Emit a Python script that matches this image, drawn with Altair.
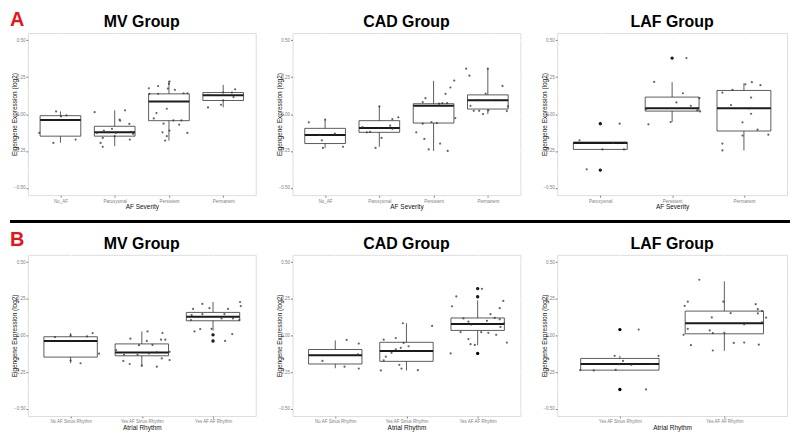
import altair as alt
import pandas as pd

FONT = "Liberation Sans"

Y_TICKS = [-0.5, -0.25, 0.0, 0.25, 0.5]
Y_MINOR = [-0.375, -0.125, 0.125, 0.375]

SEV4 = ["No_AF", "Paroxysmal", "Persistent", "Permanent"]
SEV3 = ["Paroxysmal", "Persistent", "Permanent"]
RHY3 = ["No AF Sinus Rhythm", "Yes AF Sinus Rhythm", "Yes AF AF Rhythm"]
RHY2 = ["Yes AF Sinus Rhythm", "Yes AF AF Rhythm"]

# ---------- A: MV group (AF severity) ----------
A1_LO = [-0.195, -0.218, -0.18, 0.045]
A1_Q1 = [-0.15, -0.15, -0.045, 0.092]
A1_MED = [-0.04, -0.124, 0.085, 0.128]
A1_Q3 = [-0.011, -0.083, 0.137, 0.146]
A1_HI = [0.018, 0.025, 0.225, 0.198]
A1_PTS = [
    [(-0.08, 0.018), (0.01, -0.016), (0.11, -0.009), (-0.39, -0.128), (-0.13, -0.196), (0.28, -0.173)],
    [(-0.37, 0.013), (0.19, 0.025), (0.09, -0.038), (0.1, -0.045), (0.27, -0.067), (-0.05, -0.1),
     (-0.2, -0.112), (-0.33, -0.128), (-0.12, -0.124), (0.02, -0.128), (0.3, -0.121), (0.34, -0.135),
     (-0.22, -0.162), (0.28, -0.173), (-0.26, -0.196), (-0.22, -0.222), (0.0, -0.15)],
    [(-0.37, 0.175), (-0.2, 0.19), (0.01, 0.22), (0.0, 0.205), (-0.02, 0.173), (0.11, 0.164),
     (-0.36, 0.137), (-0.2, 0.137), (0.27, 0.141), (0.34, 0.141), (-0.23, 0.007), (-0.04, 0.036),
     (-0.28, -0.03), (-0.1, -0.065), (0.08, -0.043), (0.23, -0.043), (0.19, -0.072), (-0.12, -0.124),
     (0.01, -0.112), (0.34, -0.128), (-0.04, -0.15), (-0.07, -0.18)],
    [(0.22, 0.168), (0.16, 0.146), (0.0, 0.146), (-0.28, 0.13), (0.0, 0.092), (0.19, 0.115),
     (-0.28, 0.045), (-0.04, 0.063)],
]
A1_OUT = []

# ---------- A: CAD group (AF severity) ----------
A2_LO = [-0.23, -0.222, -0.25, 0.0]
A2_Q1 = [-0.2, -0.124, -0.061, 0.034]
A2_MED = [-0.142, -0.094, 0.056, 0.094]
A2_Q3 = [-0.097, -0.045, 0.07, 0.13]
A2_HI = [-0.038, 0.052, 0.225, 0.308]
A2_PTS = [
    [(-0.3, -0.056), (0.0, -0.038), (-0.06, -0.178), (-0.1, -0.142), (0.18, -0.133), (-0.04, -0.23), (0.33, -0.222)],
    [(0.0, 0.052), (0.24, -0.034), (0.35, -0.022), (-0.31, -0.088), (0.2, -0.079), (0.24, -0.1),
     (-0.23, -0.124), (-0.17, -0.121), (0.04, -0.162), (-0.07, -0.23)],
    [(0.38, 0.227), (0.31, 0.18), (0.22, 0.137), (-0.15, 0.108), (-0.2, 0.081), (-0.29, 0.056),
     (0.1, 0.07), (0.16, 0.074), (0.25, 0.074), (0.2, 0.056), (0.4, -0.027), (-0.04, -0.054),
     (0.06, -0.061), (-0.2, -0.065), (-0.32, -0.124), (-0.17, -0.169), (0.12, -0.2), (-0.09, -0.24),
     (0.26, -0.25)],
    [(-0.4, 0.308), (-0.34, 0.26), (0.0, 0.308), (0.27, 0.191), (-0.04, 0.139), (-0.19, 0.094),
     (0.15, 0.094), (-0.32, 0.056), (-0.26, 0.022), (-0.16, 0.022), (-0.09, 0.0), (0.01, 0.025),
     (0.37, 0.052), (0.35, 0.02)],
]
A2_OUT = []

# ---------- A: LAF group (AF severity) ----------
A3_LO = [-0.24, -0.054, -0.247]
A3_Q1 = [-0.24, 0.02, -0.115]
A3_MED = [-0.196, 0.04, 0.04]
A3_Q3 = [-0.19, 0.115, 0.16]
A3_HI = [-0.19, 0.216, 0.209]
A3_PTS = [
    [(0.27, -0.065), (-0.29, -0.178), (0.18, -0.196), (0.34, -0.196), (0.03, -0.24), (0.33, -0.24),
     (-0.19, -0.375), (0.0, -0.07), (0.0, -0.38)],
    [(0.2, 0.38), (-0.25, 0.218), (0.15, 0.141), (0.06, 0.079), (0.26, 0.056), (0.38, 0.108),
     (-0.36, 0.034), (0.35, 0.025), (0.39, 0.018), (-0.33, -0.07), (-0.02, -0.054), (0.0, 0.38)],
    [(-0.3, 0.146), (-0.16, 0.164), (0.02, 0.202), (0.11, 0.216), (0.23, 0.196), (0.1, 0.112),
     (-0.18, 0.061), (0.07, 0.038), (0.1, 0.002), (-0.02, -0.056), (0.19, -0.106), (-0.02, -0.146),
     (0.34, -0.14), (-0.3, -0.2), (-0.3, -0.247)],
]
A3_OUT = [(1, -0.065), (1, -0.38), (2, 0.38)]

# ---------- B: MV group (atrial rhythm) ----------
B1_LO = [-0.19, -0.213, 0.034]
B1_Q1 = [-0.148, -0.139, 0.1]
B1_MED = [-0.038, -0.116, 0.128]
B1_Q3 = [-0.009, -0.058, 0.157]
B1_HI = [0.016, 0.027, 0.228]
B1_PTS = [
    [(-0.22, -0.011), (0.0, 0.0), (0.23, -0.007), (0.31, 0.016), (0.4, -0.125), (0.0, -0.172), (0.14, -0.19)],
    [(0.08, 0.027), (0.29, 0.016), (-0.16, -0.022), (0.07, -0.038), (0.27, -0.029), (0.33, -0.029),
     (-0.04, -0.067), (0.15, -0.065), (-0.36, -0.1), (-0.25, -0.132), (-0.06, -0.132), (0.1, -0.123),
     (0.21, -0.116), (0.39, -0.112), (-0.26, -0.174), (-0.17, -0.195), (0.28, -0.157), (0.39, -0.168),
     (0.21, -0.213), (0.0, -0.206)],
    [(-0.15, 0.215), (-0.28, 0.181), (-0.05, 0.186), (0.21, 0.181), (0.38, 0.228), (0.39, 0.2),
     (-0.3, 0.139), (-0.15, 0.145), (0.16, 0.145), (0.12, 0.116), (0.28, 0.116), (0.37, 0.105),
     (-0.31, 0.105), (-0.26, 0.027), (-0.18, 0.043), (-0.02, 0.045), (0.27, 0.009), (0.17, -0.038),
     (0.0, 0.004), (0.0, -0.038)],
]
B1_OUT = [(3, 0.004), (3, -0.038)]

# ---------- B: CAD group (atrial rhythm) ----------
B2_LO = [-0.224, -0.239, -0.067]
B2_Q1 = [-0.195, -0.177, 0.034]
B2_MED = [-0.136, -0.107, 0.078]
B2_Q3 = [-0.096, -0.047, 0.119]
B2_HI = [-0.034, 0.083, 0.239]
B2_PTS = [
    [(0.16, -0.031), (0.33, -0.056), (-0.18, -0.174), (0.13, -0.213), (0.33, -0.226), (0.32, -0.13)],
    [(-0.05, 0.083), (0.36, 0.065), (-0.15, -0.018), (-0.32, -0.029), (-0.04, -0.051), (0.03, -0.074),
     (-0.15, -0.096), (-0.08, -0.085), (-0.21, -0.119), (-0.29, -0.145), (-0.32, -0.17), (-0.1, -0.201),
     (-0.07, -0.226), (0.16, -0.237), (-0.36, -0.239)],
    [(0.06, 0.318), (-0.3, 0.266), (-0.36, 0.199), (0.36, 0.235), (0.31, 0.186), (0.18, 0.145),
     (-0.2, 0.116), (0.24, 0.119), (0.31, 0.11), (-0.13, 0.094), (-0.09, 0.074), (0.13, 0.1),
     (0.37, 0.083), (-0.24, 0.022), (0.05, 0.022), (0.15, 0.018), (0.26, 0.004), (-0.13, -0.025),
     (-0.1, -0.06), (-0.04, -0.065), (0.41, -0.049), (-0.38, -0.123), (0.32, 0.058), (0.0, 0.264),
     (0.0, 0.32)],
]
B2_OUT = [(3, 0.32), (3, 0.264), (3, -0.123)]

# ---------- B: LAF group (atrial rhythm) ----------
B3_LO = [-0.237, -0.105]
B3_Q1 = [-0.237, 0.011]
B3_MED = [-0.195, 0.083]
B3_Q3 = [-0.157, 0.166]
B3_HI = [-0.139, 0.369]
B3_PTS = [
    [(0.18, 0.04), (-0.05, -0.139), (0.03, -0.174), (0.37, -0.139), (-0.01, -0.197), (0.11, -0.201),
     (0.31, -0.195), (-0.38, -0.237), (-0.25, -0.239), (-0.04, -0.235), (0.25, -0.369)],
    [(-0.24, 0.38), (-0.01, 0.23), (-0.35, 0.23), (-0.38, 0.201), (0.3, 0.213), (0.32, 0.179),
     (0.06, 0.152), (-0.12, 0.123), (0.32, 0.15), (0.36, 0.166), (0.4, 0.121), (0.36, 0.089),
     (0.19, 0.076), (-0.35, 0.045), (-0.14, 0.034), (-0.11, 0.016), (0.0, 0.018), (-0.39, 0.004),
     (-0.32, -0.067), (0.09, -0.051), (0.19, -0.049), (0.33, -0.063), (-0.11, -0.103)],
]
B3_OUT = [(1, 0.04), (1, -0.369)]

W1, W2, W3 = 229, 229, 231
HA, HB = 163, 162


def label_expr(cats):
    expr = "''"
    for i in reversed(range(len(cats))):
        expr = f"datum.value == {i + 1} ? '{cats[i]}' : ({expr})"
    return expr


def panel(title, cats, lo, q1, med, q3, hi, pts, outs, xtitle, width, height, extra=None):
    n = len(cats)
    xs = alt.Scale(domain=[0.4, n + 0.6], nice=False, zero=False)
    ys = alt.Scale(domain=[-0.55, 0.55], nice=False, zero=False)
    xaxis = alt.Axis(values=list(range(1, n + 1)), labelExpr=label_expr(cats), title=xtitle,
                     labelFontSize=4.5, labelColor="#808080", labelFont=FONT, labelPadding=1,
                     tickSize=2, tickColor="#808080", domain=False, grid=True, gridColor="white",
                     gridWidth=1, titleFontSize=6.5, titleFont=FONT, titleFontWeight="normal",
                     titleColor="#111", titlePadding=1)
    yaxis = alt.Axis(values=Y_TICKS, format=".2f", title="Eigengene Expression (log2)",
                     labelFontSize=4.5, labelColor="#808080", labelFont=FONT, labelPadding=1,
                     tickSize=2, tickColor="#808080", domain=False, grid=True, gridColor="white",
                     gridWidth=1, titleFontSize=6.5, titleFont=FONT, titleFontWeight="normal",
                     titleColor="#111", titleX=-10)
    box = pd.DataFrame({"i": list(range(1, n + 1)), "lo": lo, "q1": q1, "med": med, "q3": q3, "hi": hi})
    px, py = [], []
    for ci, plist in enumerate(pts, start=1):
        for j, y in plist:
            px.append(ci + j)
            py.append(y)
    ptdf = pd.DataFrame({"x": px, "y": py})

    minor = alt.Chart(pd.DataFrame({"v": Y_MINOR})).mark_rule(color="white", strokeWidth=0.5).encode(
        y=alt.Y("v:Q", scale=ys, axis=yaxis))
    base = alt.Chart(box)
    whisk = base.mark_rule(color="#333333", strokeWidth=0.8).encode(
        x=alt.X("i:Q", scale=xs, axis=xaxis), y=alt.Y("lo:Q", scale=ys, axis=yaxis), y2="hi:Q")
    calc = base.transform_calculate(xa="datum.i - 0.375", xb="datum.i + 0.375")
    boxes = calc.mark_rect(fill="white", stroke="#333333", strokeWidth=0.8).encode(
        x=alt.X("xa:Q", scale=xs, axis=xaxis), x2="xb:Q",
        y=alt.Y("q1:Q", scale=ys, axis=yaxis), y2="q3:Q")
    meds = calc.mark_rule(color="#1a1a1a", strokeWidth=2).encode(
        x=alt.X("xa:Q", scale=xs, axis=xaxis), x2="xb:Q", y=alt.Y("med:Q", scale=ys, axis=yaxis))
    ttl = alt.Chart(pd.DataFrame({"t": [title]})).mark_text(
        font=FONT, fontSize=16, fontWeight="bold", color="black", align="center",
        baseline="alphabetic").encode(text="t:N", x=alt.value(width / 2), y=alt.value(-6))
    layers = [minor, whisk, boxes, meds]
    if outs:
        odf = pd.DataFrame({"x": [o[0] for o in outs], "y": [o[1] for o in outs]})
        layers.append(alt.Chart(odf).mark_circle(color="black", size=11, opacity=1).encode(
            x=alt.X("x:Q", scale=xs, axis=xaxis), y=alt.Y("y:Q", scale=ys, axis=yaxis)))
    layers.append(alt.Chart(ptdf).mark_circle(color="#333333", size=5, opacity=0.75).encode(
        x=alt.X("x:Q", scale=xs, axis=xaxis), y=alt.Y("y:Q", scale=ys, axis=yaxis)))
    layers.append(ttl)
    if extra:
        layers.extend(extra)
    return alt.layer(*layers).properties(width=width, height=height)


one = pd.DataFrame({"k": [0]})
# invisible frame that fixes the drawing to the page (page x 8..792, y 8..431)
frame = alt.Chart(one).mark_rect(color="white", opacity=0.01).encode(
    x=alt.value(-18), x2=alt.value(766), y=alt.value(-21), y2=alt.value(402))
sep = alt.Chart(one).mark_rule(color="black", strokeWidth=3).encode(
    x=alt.value(-18), x2=alt.value(766), y=alt.value(189.5))
labA = alt.Chart(one).mark_text(text="A", color="#E3161C", fontSize=20, fontWeight="bold", font=FONT,
                                align="left", baseline="alphabetic").encode(x=alt.value(-18), y=alt.value(-7))
labB = alt.Chart(one).mark_text(text="B", color="#E3161C", fontSize=20, fontWeight="bold", font=FONT,
                                align="left", baseline="alphabetic").encode(x=alt.value(-18), y=alt.value(214))

a1 = panel("MV Group", SEV4, A1_LO, A1_Q1, A1_MED, A1_Q3, A1_HI, A1_PTS, A1_OUT, "AF Severity", W1, HA,
           extra=[frame, sep, labA, labB])
a2 = panel("CAD Group", SEV4, A2_LO, A2_Q1, A2_MED, A2_Q3, A2_HI, A2_PTS, A2_OUT, "AF Severity", W2, HA)
a3 = panel("LAF Group", SEV3, A3_LO, A3_Q1, A3_MED, A3_Q3, A3_HI, A3_PTS, A3_OUT, "AF Severity", W3, HA)
b1 = panel("MV Group", RHY3, B1_LO, B1_Q1, B1_MED, B1_Q3, B1_HI, B1_PTS, B1_OUT, "Atrial Rhythm", W1, HB)
b2 = panel("CAD Group", RHY3, B2_LO, B2_Q1, B2_MED, B2_Q3, B2_HI, B2_PTS, B2_OUT, "Atrial Rhythm", W2, HB)
b3 = panel("LAF Group", RHY2, B3_LO, B3_Q1, B3_MED, B3_Q3, B3_HI, B3_PTS, B3_OUT, "Atrial Rhythm", W3, HB)

chart = alt.concat(a1, a2, a3, b1, b2, b3, columns=3,
                   spacing=alt.RowColnumber(row=60, column=37), bounds="flush").properties(
    padding=0).configure_view(fill="#EBEBEB", stroke="transparent").configure(background="white")

chart.save("out.html", embed_options={"renderer": "svg", "actions": False})
